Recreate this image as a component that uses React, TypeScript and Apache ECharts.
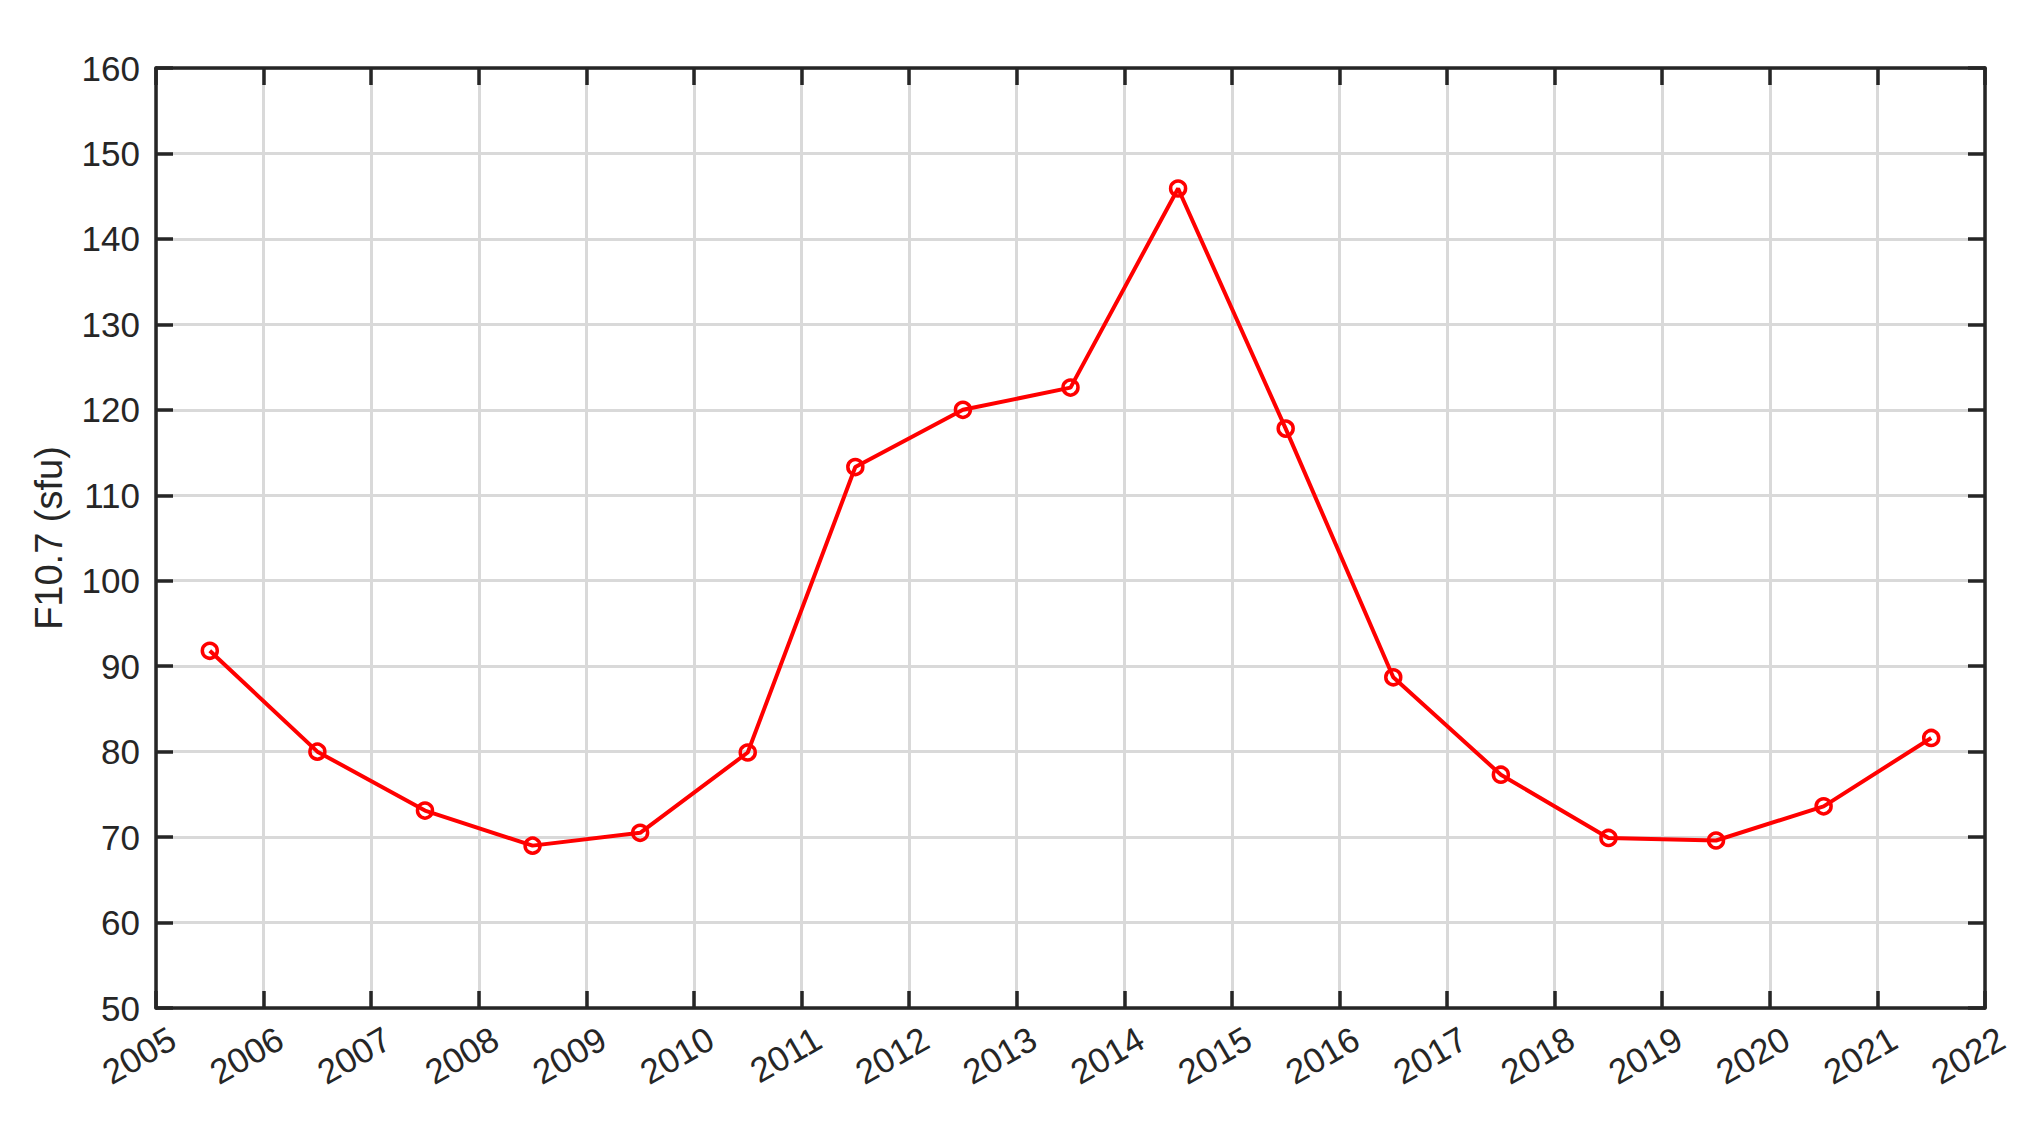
import React, { useEffect, useRef } from "react";
import * as echarts from "echarts";

const years = [
  2005.5, 2006.5, 2007.5, 2008.5, 2009.5, 2010.5, 2011.5, 2012.5, 2013.5,
  2014.5, 2015.5, 2016.5, 2017.5, 2018.5, 2019.5, 2020.5, 2021.5,
];
const f107 = [
  91.8, 80.0, 73.1, 69.0, 70.5, 79.9, 113.3, 120.0, 122.6, 145.9, 117.8,
  88.7, 77.3, 69.9, 69.6, 73.6, 81.6,
];
const yAxisTitle = "F10.7 (sfu)";
const xMin = 2005;
const xMax = 2022;
const yMin = 50;
const yMax = 160;

const INK = "#262626";
const FONT = "'Liberation Sans', Arial, Helvetica, sans-serif";

export default function App() {
  const ref = useRef<HTMLDivElement>(null);
  useEffect(() => {
    if (!ref.current) return;
    const chart = echarts.init(ref.current, null, { renderer: "svg" });
    const axisLine = { show: true, lineStyle: { color: INK, width: 3.5 } };
    const axisTick = { show: true, inside: true, length: 17, lineStyle: { color: INK, width: 3.5 } };
    chart.setOption({
      animation: false,
      backgroundColor: "#ffffff",
      grid: { left: 156, top: 68, width: 1829, height: 940, containLabel: false },
      xAxis: [
        {
          type: "value",
          min: xMin,
          max: xMax,
          interval: 1,
          position: "bottom",
          axisLine,
          axisTick,
          axisLabel: {
            rotate: 30,
            fontSize: 35,
            color: INK,
            fontFamily: FONT,
            margin: 17,
            align: "right",
            verticalAlign: "top",
            padding: [0, -9, 0, 0],
            formatter: (v: number) => String(v),
            showMinLabel: true,
            showMaxLabel: true,
          },
          splitLine: { show: true, lineStyle: { color: "#d9d9d9", width: 3 } },
        },
        {
          type: "value",
          min: xMin,
          max: xMax,
          interval: 1,
          position: "top",
          axisLine,
          axisTick,
          axisLabel: { show: false },
          splitLine: { show: false },
        },
      ],
      yAxis: [
        {
          type: "value",
          min: yMin,
          max: yMax,
          interval: 10,
          position: "left",
          axisLine,
          axisTick,
          axisLabel: { fontSize: 35, color: INK, fontFamily: FONT, margin: 16 },
          splitLine: { show: true, lineStyle: { color: "#d9d9d9", width: 3 } },
          name: yAxisTitle,
          nameLocation: "middle",
          nameGap: 88,
          nameTextStyle: { fontSize: 38, color: INK, fontFamily: FONT },
        },
        {
          type: "value",
          min: yMin,
          max: yMax,
          interval: 10,
          position: "right",
          axisLine,
          axisTick,
          axisLabel: { show: false },
          splitLine: { show: false },
        },
      ],
      series: [
        {
          type: "line",
          data: years.map((y, i) => [y, f107[i]]),
          xAxisIndex: 0,
          yAxisIndex: 0,
          symbol: "circle",
          symbolSize: 15,
          showAllSymbol: true,
          lineStyle: { color: "#ff0000", width: 4 },
          itemStyle: { color: "rgba(255,255,255,0)", borderColor: "#ff0000", borderWidth: 3.5 },
        },
      ],
    });
    return () => chart.dispose();
  }, []);
  return (
    <div
      ref={ref}
      style={{ position: "absolute", left: 0, top: 0, width: 2041, height: 1139, background: "#fff" }}
    />
  );
}
